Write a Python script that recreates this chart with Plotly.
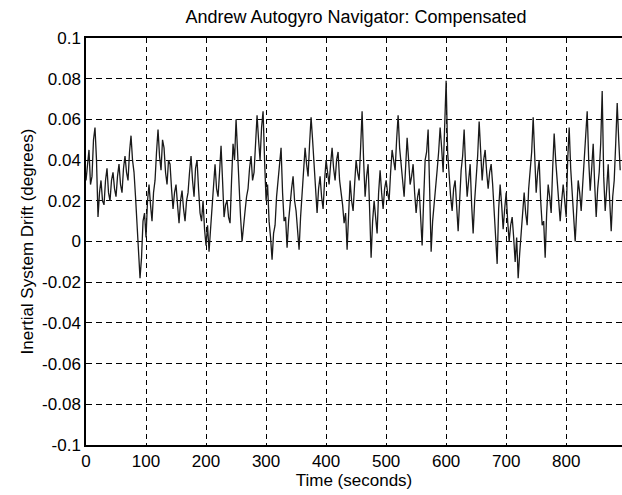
import plotly.graph_objects as go

# Time samples (seconds), every 2.5 s, and drift values (degrees)
time_s = [i * 2.5 for i in range(357)]
drift_deg = [
    # 0 - 47.5
    0.030, 0.038, 0.045, 0.028, 0.032, 0.050, 0.056, 0.040, 0.012, 0.024,
    0.030, 0.020, 0.018, 0.030, 0.036, 0.024, 0.020, 0.030, 0.034, 0.026,
    # 50 - 97.5
    0.022, 0.032, 0.038, 0.028, 0.024, 0.036, 0.042, 0.034, 0.030, 0.044,
    0.052, 0.040, 0.034, 0.022, 0.008, -0.004, -0.018, -0.008, 0.010, 0.014,
    # 100 - 147.5
    0.002, 0.020, 0.028, 0.018, 0.010, 0.024, 0.030, 0.044, 0.055, 0.042,
    0.035, 0.050, 0.046, 0.034, 0.028, 0.040, 0.038, 0.026, 0.016, 0.024,
    # 150 - 197.5
    0.028, 0.018, 0.009, 0.020, 0.025, 0.016, 0.010, 0.020, 0.024, 0.034,
    0.042, 0.030, 0.022, 0.036, 0.040, 0.026, 0.014, 0.010, 0.020, 0.006,
    # 200 - 247.5
    -0.002, 0.008, -0.005, 0.006, 0.016, 0.030, 0.038, 0.026, 0.022, 0.034,
    0.047, 0.030, 0.012, 0.018, 0.020, 0.012, 0.009, 0.030, 0.048, 0.040,
    # 250 - 297.5
    0.060, 0.044, 0.025, 0.012, 0.000, 0.010, 0.015, 0.022, 0.026, 0.036,
    0.042, 0.030, 0.034, 0.048, 0.062, 0.050, 0.040, 0.056, 0.064, 0.040,
    # 300 - 347.5
    0.020, 0.028, 0.010, 0.002, -0.009, 0.004, 0.008, 0.022, 0.030, 0.036,
    0.046, 0.024, 0.010, 0.012, -0.003, 0.010, 0.020, 0.026, 0.032, 0.020,
    # 350 - 397.5
    0.015, 0.006, -0.004, 0.012, 0.025, 0.036, 0.046, 0.038, 0.032, 0.048,
    0.061, 0.050, 0.038, 0.024, 0.014, 0.026, 0.032, 0.022, 0.016, 0.030,
    # 400 - 447.5
    0.040, 0.034, 0.028, 0.038, 0.046, 0.036, 0.030, 0.040, 0.044, 0.030,
    0.024, 0.018, 0.009, 0.014, -0.004, 0.016, 0.030, 0.020, 0.015, 0.028,
    # 450 - 497.5
    0.040, 0.034, 0.030, 0.046, 0.064, 0.040, 0.022, 0.032, 0.038, 0.016,
    -0.008, 0.010, 0.020, 0.012, 0.004, 0.024, 0.035, 0.024, 0.016, 0.026,
    # 500 - 547.5
    0.030, 0.024, 0.020, 0.034, 0.045, 0.040, 0.035, 0.050, 0.062, 0.046,
    0.036, 0.030, 0.022, 0.036, 0.051, 0.040, 0.028, 0.032, 0.038, 0.024,
    # 550 - 597.5
    0.014, 0.022, 0.026, 0.012, -0.002, 0.020, 0.040, 0.044, 0.055, 0.026,
    -0.005, 0.010, 0.020, 0.030, 0.035, 0.044, 0.056, 0.046, 0.034, 0.056,
    # 600 - 647.5
    0.079, 0.044, 0.030, 0.022, 0.015, 0.026, 0.030, 0.016, 0.005, 0.020,
    0.035, 0.042, 0.055, 0.036, 0.022, 0.030, 0.038, 0.018, 0.004, 0.020,
    # 650 - 697.5
    0.030, 0.042, 0.059, 0.040, 0.030, 0.040, 0.045, 0.034, 0.026, 0.034,
    0.038, 0.028, 0.016, 0.006, -0.011, 0.016, 0.028, 0.018, 0.006, 0.016,
    # 700 - 747.5
    0.024, 0.010, 0.000, 0.008, 0.012, 0.002, -0.010, 0.002, -0.018, -0.006,
    0.005, 0.018, 0.024, 0.014, 0.008, 0.026, 0.036, 0.044, 0.061, 0.040,
    # 750 - 797.5
    0.024, 0.034, 0.040, 0.020, 0.008, 0.010, -0.008, 0.014, 0.028, 0.022,
    0.014, 0.036, 0.053, 0.040, 0.030, 0.020, 0.010, 0.020, 0.028, 0.020,
    # 800 - 847.5
    0.012, 0.040, 0.056, 0.036, 0.020, 0.012, 0.000, 0.016, 0.030, 0.024,
    0.015, 0.028, 0.040, 0.050, 0.064, 0.040, 0.025, 0.036, 0.048, 0.028,
    # 850 - 890
    0.012, 0.026, 0.034, 0.048, 0.074, 0.032, 0.015, 0.026, 0.038, 0.020,
    0.005, 0.022, 0.030, 0.048, 0.068, 0.050, 0.035,
]

x_ticks = [0, 100, 200, 300, 400, 500, 600, 700, 800]
y_ticks = [-0.1, -0.08, -0.06, -0.04, -0.02, 0, 0.02, 0.04, 0.06, 0.08, 0.1]
y_tick_text = ["-0.1", "-0.08", "-0.06", "-0.04", "-0.02", "0", "0.02", "0.04", "0.06", "0.08", "0.1"]

FONT = "Liberation Sans, Arial, sans-serif"

fig = go.Figure()
fig.add_trace(go.Scatter(
    x=time_s, y=drift_deg, mode="lines",
    line=dict(color="#1a1a1a", width=1.3),
    showlegend=False,
))

fig.update_layout(
    width=622, height=495,
    margin=dict(l=86, r=0, t=38, b=50),
    paper_bgcolor="white", plot_bgcolor="white",
    font=dict(family=FONT, size=17, color="black"),
    title=dict(text="Andrew Autogyro Navigator: Compensated", x=356/622, xanchor="center",
               y=1 - 17/495, yanchor="middle", font=dict(size=18)),
)
fig.update_xaxes(
    range=[0, 893], tickvals=x_ticks, ticktext=[str(v) for v in x_ticks],
    showgrid=True, gridcolor="black", gridwidth=1, griddash="5px,4px",
    showline=True, linecolor="black", linewidth=1.5, mirror=True,
    zeroline=False, ticks="", tickfont=dict(size=17),
    title=dict(text="Time (seconds)", font=dict(size=17), standoff=2),
)
fig.update_yaxes(
    range=[-0.1, 0.1], tickvals=y_ticks, ticktext=y_tick_text,
    showgrid=True, gridcolor="black", gridwidth=1, griddash="6px,4px",
    showline=True, linecolor="black", linewidth=1.5, mirror=False,
    zeroline=False, ticks="", tickfont=dict(size=17),
    title=dict(text="Inertial System Drift (degrees)", font=dict(size=17), standoff=4),
)

fig.write_html("out.html")
